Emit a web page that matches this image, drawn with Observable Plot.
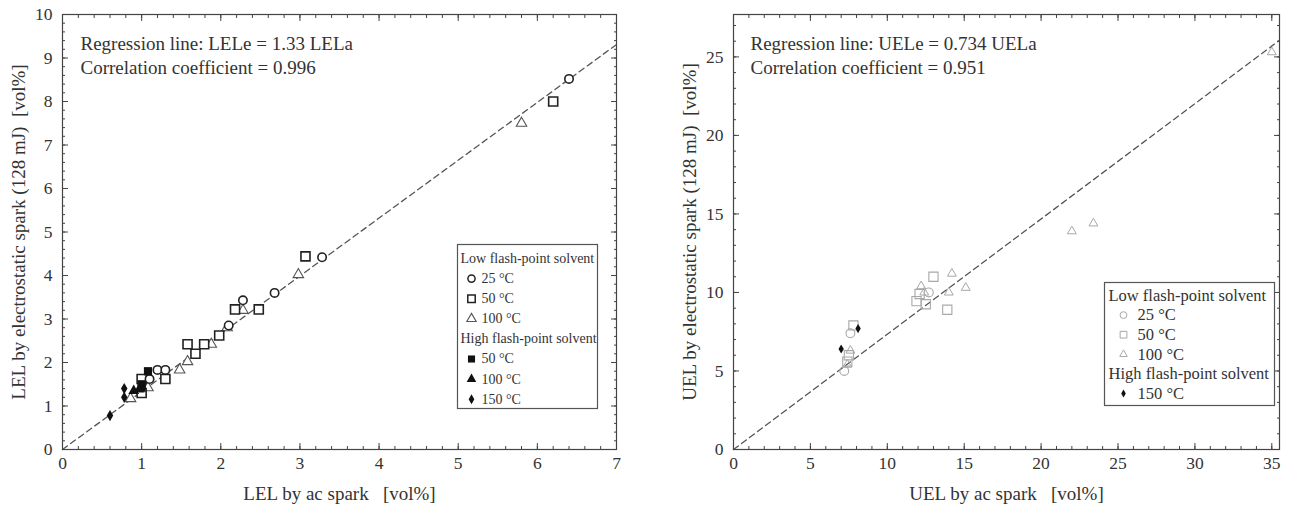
<!DOCTYPE html>
<html><head><meta charset="utf-8">
<script src="https://cdn.jsdelivr.net/npm/d3@7"></script>
<script src="https://cdn.jsdelivr.net/npm/@observablehq/plot@0.6"></script>
<style>
body{margin:0;background:#fff;}
#wrap{display:flex;width:1293px;height:513px;overflow:hidden;}
</style></head><body><div id="wrap"></div>
<script>
// ---------- LEL panel data: [ac spark, electrostatic spark] ----------
const lelLow25  = [[1.1,1.62],[1.2,1.83],[1.3,1.83],[2.1,2.85],[2.28,3.43],[2.68,3.6],[3.28,4.42],[6.4,8.52]];
const lelLow50  = [[1.0,1.3],[1.0,1.62],[1.3,1.62],[1.58,2.42],[1.68,2.2],[1.79,2.42],[1.98,2.62],[2.18,3.22],[2.48,3.22],[3.07,4.44],[6.2,8.0]];
const lelLow100 = [[0.86,1.17],[1.08,1.42],[1.48,1.83],[1.58,2.02],[1.88,2.42],[2.08,2.8],[2.28,3.2],[2.98,4.02],[5.8,7.5]];
const lelHigh50  = [[1.0,1.42],[1.0,1.5],[1.08,1.8]];
const lelHigh100 = [[0.9,1.35],[0.97,1.38]];
const lelHigh150 = [[0.6,0.78],[0.78,1.2],[0.78,1.4]];
const lelSlope = 1.33;
const lelTexts = ["Regression line: LELe = 1.33 LELa", "Correlation coefficient = 0.996"];
const lelXTicks = [0,1,2,3,4,5,6,7];
const lelYTicks = [0,1,2,3,4,5,6,7,8,9,10];

// ---------- UEL panel data ----------
const uelLow25  = [[7.2,5.0],[7.6,7.4],[12.7,10.0]];
const uelLow50  = [[7.4,5.6],[7.5,6.0],[7.8,7.9],[11.9,9.45],[12.1,9.9],[12.5,9.25],[13.0,11.0],[13.9,8.9]];
const uelLow100 = [[7.4,5.4],[7.6,6.3],[12.2,10.4],[12.4,10.0],[14.0,10.0],[14.2,11.2],[15.1,10.3],[22.0,13.9],[23.4,14.4],[35.0,25.3]];
const uelHigh150 = [[7.0,6.4],[8.1,7.7]];
const uelSlope = 0.734;
const uelTexts = ["Regression line: UELe = 0.734 UELa", "Correlation coefficient = 0.951"];
const uelXTicks = [0,5,10,15,20,25,30,35];
const uelYTicks = [0,5,10,15,20,25];

const FONT = "'Liberation Serif','Times New Roman',serif";
const INK = "#333";

function inwardTicks(xMajor, xMinor, yMajor, yMinor) {
  const blank = () => "";
  const common = {label: null, tickFormat: blank, stroke: "#444", strokeWidth: 1};
  return [
    Plot.axisX({...common, anchor: "bottom", ticks: xMajor, tickSize: 6, dy: -6}),
    Plot.axisX({...common, anchor: "bottom", ticks: xMinor, tickSize: 3, dy: -3}),
    Plot.axisX({...common, anchor: "top", ticks: xMajor, tickSize: 6, dy: 6}),
    Plot.axisX({...common, anchor: "top", ticks: xMinor, tickSize: 3, dy: 3}),
    Plot.axisY({...common, anchor: "left", ticks: yMajor, tickSize: 6, dx: 6}),
    Plot.axisY({...common, anchor: "left", ticks: yMinor, tickSize: 3, dx: 3}),
    Plot.axisY({...common, anchor: "right", ticks: yMajor, tickSize: 6, dx: -6}),
    Plot.axisY({...common, anchor: "right", ticks: yMinor, tickSize: 3, dx: -3})
  ];
}

function legendMarks(items, o) {
  const marks = [Plot.frame({insetLeft: o.boxL, insetRight: o.boxR, insetTop: o.boxT, insetBottom: o.boxB, stroke: "#555", strokeWidth: 1.2})];
  items.forEach((it, i) => {
    const dy = o.row0 + i * o.rowH;
    if (it.head) {
      marks.push(Plot.text([it.label], {frameAnchor: "top-left", dx: o.headX, dy, textAnchor: "start", lineAnchor: "middle", fontSize: o.fs, fontFamily: FONT, fill: INK}));
    } else {
      marks.push(Plot.dot([0], {frameAnchor: "top-left", dx: o.symX, dy, symbol: it.symbol, r: it.r, stroke: it.stroke, fill: it.fill, strokeWidth: it.sw}));
      marks.push(Plot.text([it.label], {frameAnchor: "top-left", dx: o.textX, dy, textAnchor: "start", lineAnchor: "middle", fontSize: o.fs, fontFamily: FONT, fill: INK}));
    }
  });
  return marks;
}

function series(data, sty) {
  return Plot.dot(data, {x: d => d[0], y: d => d[1], symbol: sty.symbol, r: sty.r, stroke: sty.stroke, fill: sty.fill, strokeWidth: sty.sw});
}

function panel(cfg) {
  const lineData = [cfg.xDomain[0], cfg.xDomain[1]].map(x => ({x, y: cfg.slope * x}));
  const fmt = d => String(d);
  return Plot.plot({
    width: cfg.width, height: 513,
    marginLeft: cfg.ml, marginRight: cfg.mr, marginTop: 14, marginBottom: 64,
    x: {domain: cfg.xDomain}, y: {domain: cfg.yDomain},
    style: {fontFamily: FONT, fontSize: "17px", color: INK, background: "white", overflow: "visible"},
    marks: [
      Plot.line(lineData, {x: "x", y: "y", stroke: "#555", strokeWidth: 1.3, strokeDasharray: "6,4"}),
      ...cfg.series.map(s => series(s.data, s.style)),
      Plot.frame({stroke: "#444", strokeWidth: 1.2}),
      ...inwardTicks(cfg.xTicks, cfg.xMinor, cfg.yTicks, cfg.yMinor),
      Plot.axisX({anchor: "bottom", ticks: cfg.xTicks, tickFormat: fmt, tickSize: 0, tickPadding: 7, label: null, fill: INK, fontSize: 17.5, fontFamily: FONT}),
      Plot.axisY({anchor: "left", ticks: cfg.yTicks, tickFormat: fmt, tickSize: 0, tickPadding: 10, label: null, fill: INK, fontSize: 17.5, fontFamily: FONT}),
      Plot.text([cfg.xTitle], {frameAnchor: "bottom", dy: 44, textAnchor: "middle", lineAnchor: "middle", fontSize: 19, fontFamily: FONT, fill: INK}),
      Plot.text([cfg.yTitle], {frameAnchor: "left", dx: cfg.yTitleDx, rotate: -90, textAnchor: "middle", lineAnchor: "middle", fontSize: 19, fontFamily: FONT, fill: INK}),
      Plot.text([cfg.texts[0]], {frameAnchor: "top-left", dx: cfg.annX, dy: 29, textAnchor: "start", lineAnchor: "middle", fontSize: 19, fontFamily: FONT, fill: INK}),
      Plot.text([cfg.texts[1]], {frameAnchor: "top-left", dx: cfg.annX, dy: 53, textAnchor: "start", lineAnchor: "middle", fontSize: 19, fontFamily: FONT, fill: INK}),
      ...legendMarks(cfg.legend, cfg.legendBox)
    ]
  });
}

const dark = "#222";
const lelStyles = {
  c: {symbol: "circle", r: 4.2, stroke: dark, fill: "white", sw: 1.6},
  s: {symbol: "square", r: 5.1, stroke: dark, fill: "white", sw: 1.6},
  t: {symbol: "triangle", r: 3.9, stroke: "#555", fill: "white", sw: 1.1},
  S: {symbol: "square", r: 4.6, stroke: "none", fill: "#111", sw: 0},
  T: {symbol: "triangle", r: 4, stroke: "none", fill: "#111", sw: 0},
  D: {symbol: "diamond", r: 3.4, stroke: "none", fill: "#111", sw: 0}
};
const gray = "#a8a8a8";
const uelStyles = {
  c: {symbol: "circle", r: 4.4, stroke: gray, fill: "none", sw: 1.1},
  s: {symbol: "square", r: 5.2, stroke: gray, fill: "none", sw: 1.1},
  t: {symbol: "triangle", r: 3.3, stroke: gray, fill: "none", sw: 1},
  D: {symbol: "diamond", r: 2.8, stroke: "none", fill: "#111", sw: 0}
};

const left = panel({
  width: 640, ml: 62, mr: 24,
  xDomain: [0, 7], yDomain: [0, 10], slope: lelSlope,
  xTicks: lelXTicks, yTicks: lelYTicks,
  xMinor: d3.range(0, 7.001, 0.2), yMinor: d3.range(0, 10.001, 0.2),
  xTitle: "LEL by ac spark   [vol%]",
  yTitle: "LEL by electrostatic spark (128 mJ)  [vol%]",
  yTitleDx: -44, annX: 18, texts: lelTexts,
  series: [
    {data: lelLow100, style: lelStyles.t},
    {data: lelLow50, style: lelStyles.s},
    {data: lelLow25, style: lelStyles.c},
    {data: lelHigh50, style: lelStyles.S},
    {data: lelHigh100, style: lelStyles.T},
    {data: lelHigh150, style: lelStyles.D}
  ],
  legend: [
    {head: true, label: "Low flash-point solvent"},
    {label: "25 °C", symbol: "circle", r: 3.6, stroke: dark, fill: "white", sw: 1.5},
    {label: "50 °C", symbol: "square", r: 4.2, stroke: dark, fill: "white", sw: 1.5},
    {label: "100 °C", symbol: "triangle", r: 3.5, stroke: "#555", fill: "white", sw: 1.1},
    {head: true, label: "High flash-point solvent"},
    {label: "50 °C", symbol: "square", r: 4, stroke: "none", fill: "#111", sw: 0},
    {label: "100 °C", symbol: "triangle", r: 3.6, stroke: "none", fill: "#111", sw: 0},
    {label: "150 °C", symbol: "diamond", r: 3, stroke: "none", fill: "#111", sw: 0}
  ],
  legendBox: {boxL: 395, boxR: 19, boxT: 230, boxB: 41, row0: 244, rowH: 20.1, headX: 398, symX: 409, textX: 419, fs: 14}
});

const right = panel({
  width: 653, ml: 93, mr: 14,
  xDomain: [0, 35.5], yDomain: [0, 27.7], slope: uelSlope,
  xTicks: uelXTicks, yTicks: uelYTicks,
  xMinor: d3.range(0, 35.001, 1), yMinor: d3.range(0, 27.001, 1),
  xTitle: "UEL by ac spark   [vol%]",
  yTitle: "UEL by electrostatic spark (128 mJ)  [vol%]",
  yTitleDx: -44, annX: 17, texts: uelTexts,
  series: [
    {data: uelLow100, style: uelStyles.t},
    {data: uelLow50, style: uelStyles.s},
    {data: uelLow25, style: uelStyles.c},
    {data: uelHigh150, style: uelStyles.D}
  ],
  legend: [
    {head: true, label: "Low flash-point solvent"},
    {label: "25 °C", symbol: "circle", r: 3.4, stroke: gray, fill: "none", sw: 1},
    {label: "50 °C", symbol: "square", r: 3.8, stroke: gray, fill: "none", sw: 1},
    {label: "100 °C", symbol: "triangle", r: 2.8, stroke: gray, fill: "none", sw: 1},
    {head: true, label: "High flash-point solvent"},
    {label: "150 °C", symbol: "diamond", r: 2.4, stroke: "none", fill: "#111", sw: 0}
  ],
  legendBox: {boxL: 371, boxR: 5, boxT: 268, boxB: 44, row0: 281, rowH: 19.6, headX: 375, symX: 390, textX: 404, fs: 16.5}
});

document.getElementById("wrap").append(left, right);
</script>
</body></html>
